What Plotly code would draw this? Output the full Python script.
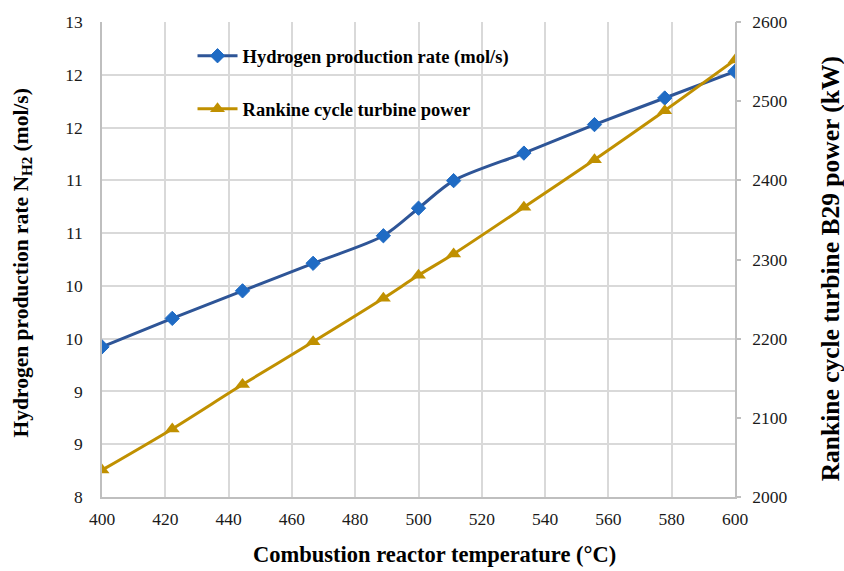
import plotly.graph_objects as go

temperature = [400, 422.2, 444.4, 466.7, 488.9, 500, 511.1, 533.3, 555.6, 577.8, 600]
hydrogen_rate = [9.58, 9.88, 10.17, 10.46, 10.75, 11.04, 11.33, 11.62, 11.92, 12.20, 12.48]
turbine_power = [2034, 2086, 2142, 2196, 2251, 2280, 2307, 2366, 2426, 2488, 2552]

x_ticks = [400, 420, 440, 460, 480, 500, 520, 540, 560, 580, 600]
left_tick_vals = [8, 8.556, 9.111, 9.667, 10.222, 10.778, 11.333, 11.889, 12.444, 13]
left_tick_text = ["8", "9", "9", "10", "10", "11", "11", "12", "12", "13"]
right_tick_vals = [2000, 2100, 2200, 2300, 2400, 2500, 2600]

FONT = "Liberation Serif"
W, H = 844, 571
L, R, T, B = 102, 109, 15, 74
AXIS_GREY = "#BFBFBF"
CLEAR = "rgba(0,0,0,0)"

fig = go.Figure()
fig.add_trace(go.Scatter(
    x=temperature, y=hydrogen_rate, name="Hydrogen production rate (mol/s)",
    mode="lines+markers", line=dict(color="#2E5597", width=3, shape="spline", smoothing=0.8),
    marker=dict(symbol="diamond", size=11, color="#1F6BC4", line=dict(color="#1F6BC4", width=1)),
    legendgroup="a", yaxis="y"))
fig.add_trace(go.Scatter(
    x=temperature, y=turbine_power, name="Rankine cycle turbine power",
    mode="lines+markers", line=dict(color="#C09000", width=3, shape="spline", smoothing=0.8),
    marker=dict(symbol="triangle-up", size=13, color="#C09000"),
    legendgroup="b", yaxis="y2"))
# empty helper trace so the tick-mark-only right axis gets drawn
fig.add_trace(go.Scatter(x=[None], y=[None], yaxis="y3", showlegend=False, hoverinfo="skip",
                         mode="lines", line=dict(color=CLEAR)))

tick_font = dict(family=FONT, size=17.5, color="#1A1A1A")
fig.update_layout(
    width=W, height=H, margin=dict(l=L, r=R, t=T, b=B),
    paper_bgcolor="white", plot_bgcolor="white",
    font=dict(family=FONT, color="#1A1A1A", size=17.5),
    showlegend=True,
    legend=dict(x=0.143, y=0.968, xanchor="left", yanchor="top", bgcolor=CLEAR,
                font=dict(family=FONT, size=18.5, color="black", weight="bold"),
                traceorder="grouped", tracegroupgap=26, itemwidth=40),
    xaxis=dict(range=[400, 600], tickvals=x_ticks, showgrid=True, gridcolor="#D9D9D9", gridwidth=1.5,
               showline=True, linecolor=AXIS_GREY, linewidth=1.5, ticks="outside", ticklen=5,
               tickcolor=CLEAR, zeroline=False, tickfont=tick_font),
    yaxis=dict(range=[8, 13], tickvals=left_tick_vals, ticktext=left_tick_text, showgrid=True,
               gridcolor="#D9D9D9", gridwidth=1.5, showline=True, linecolor=AXIS_GREY, linewidth=1.5,
               ticks="outside", ticklen=14, tickcolor=CLEAR, zeroline=False, tickfont=tick_font),
    yaxis2=dict(range=[2000, 2600], tickvals=right_tick_vals, overlaying="y", side="right",
                showgrid=False, showline=True, linecolor=AXIS_GREY, linewidth=1.5,
                ticks="outside", ticklen=12, tickcolor=CLEAR, zeroline=False, tickfont=tick_font),
    yaxis3=dict(range=[2000, 2600], tickvals=right_tick_vals, overlaying="y", side="right",
                showgrid=False, showline=False, showticklabels=False, ticks="outside", ticklen=5,
                tickwidth=1.5, tickcolor=AXIS_GREY, zeroline=False),
)

def title_font(size):
    return dict(family=FONT, size=size, color="black", weight="bold")

fig.add_annotation(text="Combustion reactor temperature (°C)", xref="paper", yref="paper",
                   x=(434 - L) / (W - L - R), y=0, yshift=-(554 - (H - B)), xanchor="center",
                   yanchor="middle", showarrow=False, font=title_font(22.5))
fig.add_annotation(text="Hydrogen production rate N<sub>H2</sub> (mol/s)", xref="paper", yref="paper",
                   x=0, xshift=22 - L, y=(H - B - 260) / (H - T - B), textangle=-90, xanchor="center",
                   yanchor="middle", showarrow=False, font=title_font(21.5))
fig.add_annotation(text="Rankine cycle turbine B29 power (kW)", xref="paper", yref="paper",
                   x=1, xshift=830 - (W - R), y=(H - B - 266) / (H - T - B), textangle=-90,
                   xanchor="center", yanchor="middle", showarrow=False, font=title_font(25.5))

fig.write_html("out.html")
